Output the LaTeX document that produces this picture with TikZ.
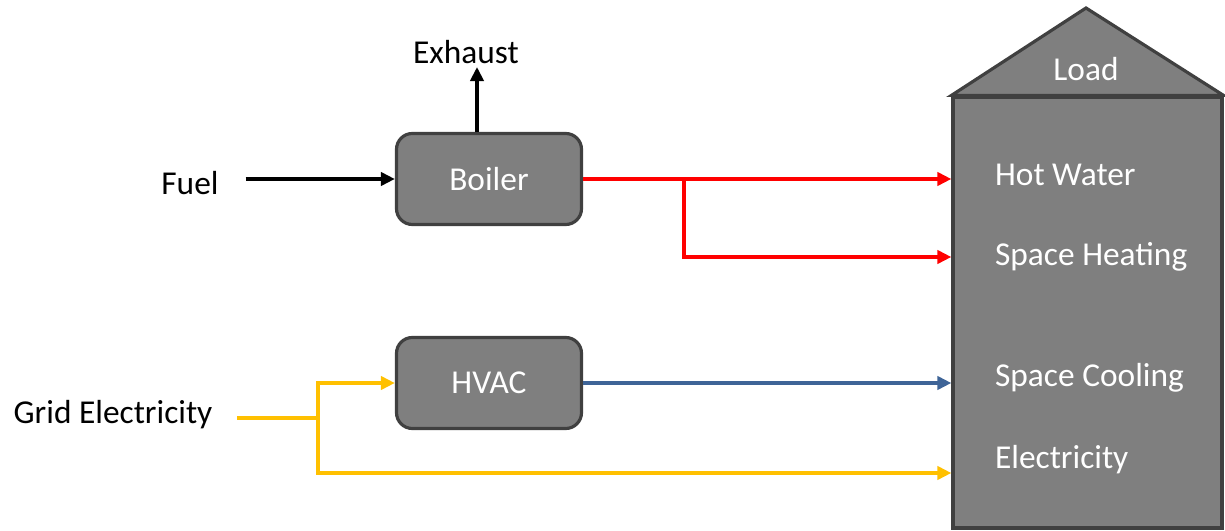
\documentclass[tikz,border=0pt]{standalone}
\usepackage{fontspec}
\setmainfont{Carlito}
\usetikzlibrary{arrows.meta,positioning,calc}
\definecolor{boxgray}{HTML}{7F7F7F}
\definecolor{edgegray}{HTML}{404040}
\definecolor{heatred}{HTML}{FF0000}
\definecolor{gridyellow}{HTML}{FFC000}
\definecolor{coolblue}{HTML}{3E6497}

\begin{document}
\begin{tikzpicture}[
    unit/.style={draw=edgegray, line width=1.8pt, rounded corners=9pt, fill=boxgray, minimum width=3.7cm, minimum height=1.82cm, text=white, font=\fontsize{19}{21}\selectfont},
    tag/.style={font=\fontsize{19}{21}\selectfont, inner sep=1pt},
    inner/.style={tag, text=white, anchor=west},
    arr/.style={-{Triangle[length=8pt,width=7.5pt]}, line width=2.2pt},
    heat/.style={arr, heatred},
    cool/.style={arr, coolblue}
]
\useasboundingbox (0,0) rectangle (24.5,10.62);

% units
\node[unit] (boiler) at (9.78,7.04) {Boiler};
\node[unit] (hvac) at (9.78,2.96) {HVAC};

% load building
\node[draw=edgegray, line width=1.8pt, fill=boxgray, minimum width=5.38cm, minimum height=8.62cm] (load) at (21.75,4.37) {};
\draw[draw=edgegray, line width=1.8pt, fill=boxgray, line join=miter] (load.north west) -- (21.72,10.46) -- (load.north east) -- cycle;
\node[tag, text=white] (loadtxt) at (21.72,9.24) {Load};
\node[inner] (hw) at (19.86,7.12) {Hot Water};
\node[inner] (sh) at (19.86,5.48) {Space Heating};
\node[inner] (sc) at (19.86,3.06) {Space Cooling};
\node[inner] (el) at (19.86,1.42) {Electricity};

% inputs
\node[tag] (fuel) at (3.8,6.96) {Fuel};
\node[tag] (exhaust) at (9.32,9.58) {Exhaust};
\node[tag] (grid) at (2.26,2.32) {Grid Electricity};

\coordinate (exfoot) at (9.54,9.28);
\coordinate (rsplit) at (13.68,0);
\coordinate (ysplit) at (6.36,2.26);
\coordinate (ylow) at (6.36,1.16);

\draw[arr] ([xshift=0.5cm]fuel.east |- boiler.west) -- (boiler.west);
\draw[arr] (boiler.north -| exfoot) -- (exfoot);

\draw[heat] (boiler.east) -- (boiler.east -| load.west);
\draw[heat] (boiler.east -| rsplit) |- (sh -| load.west);

\draw[cool] (hvac.east) -- (hvac.east -| load.west);

\draw[gridyellow, line width=2.2pt] ([xshift=0.45cm]grid.east |- ysplit) -- (ysplit);
\draw[{Triangle[length=8pt,width=7.5pt]}-{Triangle[length=8pt,width=7.5pt]}, line width=2.2pt, gridyellow] (hvac.west) -| (ylow) -- (ylow -| load.west);
\end{tikzpicture}
\end{document}
